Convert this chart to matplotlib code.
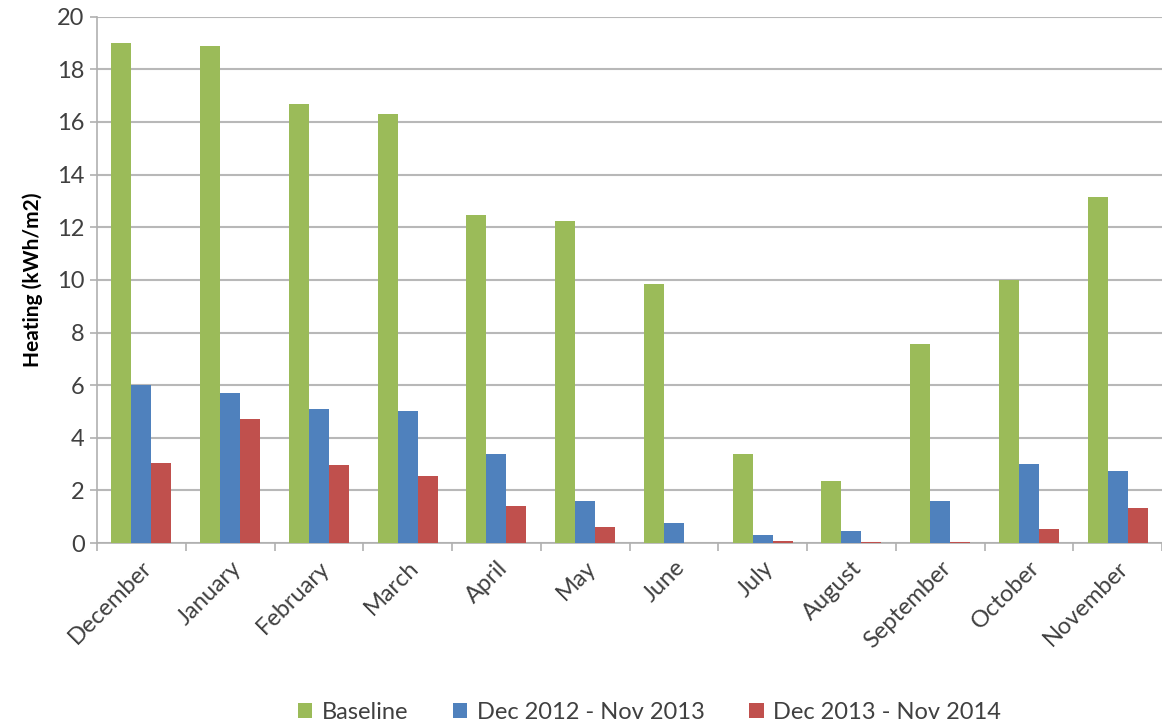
import numpy as np
import matplotlib.pyplot as plt
from matplotlib.ticker import FixedLocator

plt.rcParams['font.family'] = ['Lato', 'DejaVu Sans']

months = ["December", "January", "February", "March", "April", "May",
          "June", "July", "August", "September", "October", "November"]
baseline = [19.0, 18.9, 16.7, 16.3, 12.45, 12.25, 9.85, 3.4, 2.35, 7.55, 10.0, 13.15]
period_1 = [6.0, 5.7, 5.1, 5.0, 3.4, 1.6, 0.75, 0.3, 0.45, 1.6, 3.0, 2.75]
period_2 = [3.05, 4.7, 2.95, 2.55, 1.4, 0.6, 0.0, 0.07, 0.05, 0.05, 0.55, 1.35]
series_names = ["Baseline", "Dec 2012 - Nov 2013", "Dec 2013 - Nov 2014"]
colors = ["#9BBB59", "#4F81BD", "#C0504D"]

fig = plt.figure(figsize=(11.62, 7.27), dpi=100)
ax = fig.add_axes([0.0835, 0.253, 0.9165, 0.724])

x = np.arange(len(months))
w = 0.225
for i, (vals, name, c) in enumerate(zip([baseline, period_1, period_2], series_names, colors)):
    ax.bar(x + (i - 1) * w, vals, width=w, color=c, label=name, zorder=3)

ax.set_xlim(-0.5, len(months) - 0.5)
ax.set_ylim(0, 20)
ax.set_yticks(range(0, 21, 2))
ax.tick_params(axis='y', labelsize=17, length=5, width=1.2,
               color='#b0b0b0', labelcolor='#404040', pad=4)
ax.grid(axis='y', color='#b8b8b8', linewidth=1.5, zorder=0)

ax.set_xticks(x)
ax.set_xticklabels(months, rotation=45, ha='right', rotation_mode='anchor',
                   fontsize=17, color='#404040')
ax.tick_params(axis='x', length=0, pad=10)
ax.xaxis.set_minor_locator(FixedLocator(np.arange(-0.5, len(months), 1.0)))
ax.tick_params(axis='x', which='minor', length=6, width=1.2, color='#b0b0b0')

for s in ['top', 'right']:
    ax.spines[s].set_visible(False)
for s in ['left', 'bottom']:
    ax.spines[s].set_color('#b0b0b0')
    ax.spines[s].set_linewidth(1.2)

ax.set_ylabel("Heating (kWh/m2)", fontsize=15, fontweight='bold', labelpad=10)

fig.legend(loc='center', bbox_to_anchor=(0.559, 0.02), ncol=3, frameon=False,
           fontsize=17, handlelength=0.6, handleheight=0.6, handletextpad=0.4,
           columnspacing=1.9, labelcolor='#404040')

fig.savefig("out.png", dpi=100)
